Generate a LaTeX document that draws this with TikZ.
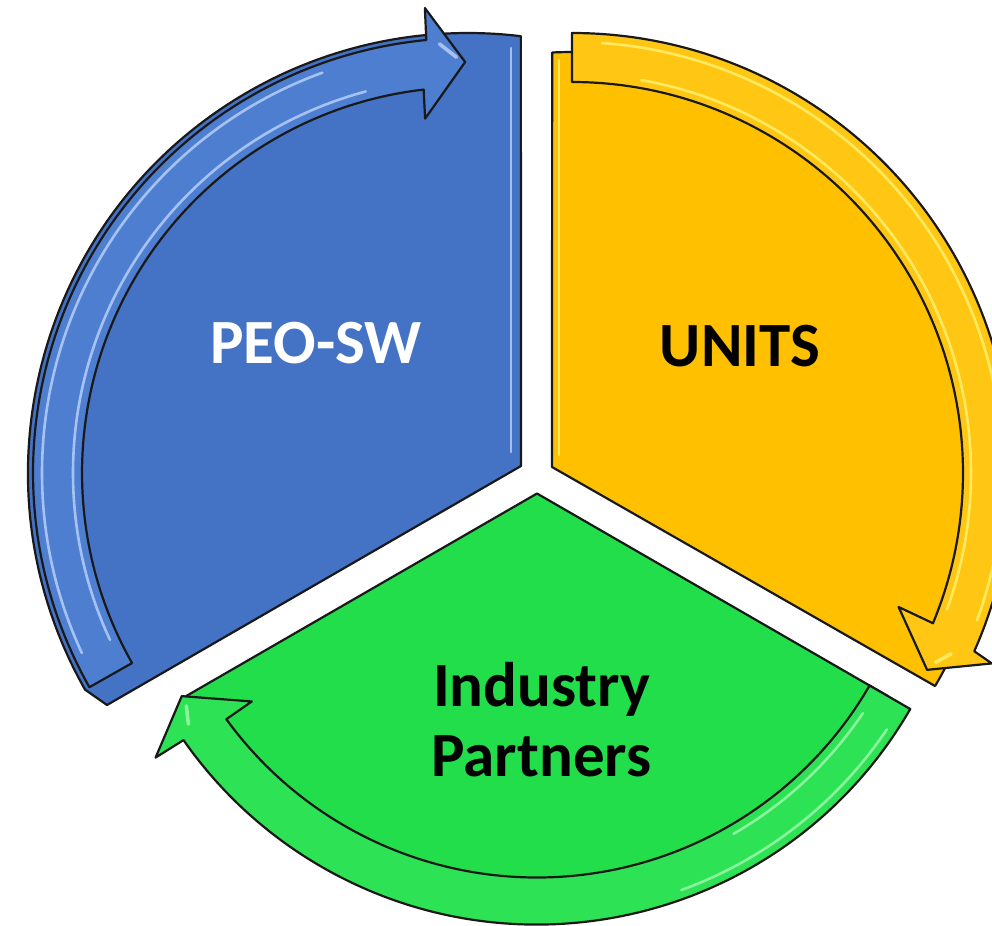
\documentclass[tikz,border=0pt]{standalone}
\usepackage{fontspec}
\usetikzlibrary{calc}
\setmainfont{Carlito}
\definecolor{blueF}{RGB}{68,114,196}
\definecolor{blueB}{RGB}{78,126,208}
\definecolor{blueH}{RGB}{196,218,255}
\definecolor{yelF}{RGB}{255,192,0}
\definecolor{yelB}{RGB}{255,198,20}
\definecolor{yelH}{RGB}{255,246,120}
\definecolor{grnF}{RGB}{35,222,75}
\definecolor{grnB}{RGB}{45,226,85}
\definecolor{grnH}{RGB}{170,250,180}
\definecolor{outline}{RGB}{25,25,25}
\begin{document}
\begin{tikzpicture}[x=0.5pt,y=0.5pt,line join=round,
  shape outline/.style={draw=outline,line width=1.1pt},
  glint/.style={line width=1.3pt,line cap=round,opacity=0.75},
  label text/.style={font=\fontsize{31.5}{35.3}\selectfont\bfseries,inner sep=0pt,anchor=base}]
\useasboundingbox (0,0) rectangle (992,-926);
\clip (0,0) rectangle (992,-926);

% ---------------- BLUE segment ----------------
\coordinate (bA) at (521,-466);
\coordinate (bL) at (107,-705);
\coordinate (bC) at (468,-473);
\path[shape outline,fill=blueF] (bA) -- (bL) -- ($(bC)+(209.5:440)$)
   arc[start angle=209.5,end angle=83.1,radius=440] -- cycle;
\draw[glint,blueH] (511,-48) -- (511,-452);
\begin{scope}[shift={(bC)}]
  \path[shape outline,fill=blueB] (209.5:435) arc[start angle=209.5,end angle=95.5,radius=435]
     -- (95.3:467) -- (90.4:411) -- (96.9:357) -- (96.6:386)
     arc[start angle=96.6,end angle=209.5,radius=386] -- cycle;
  \draw[glint,blueH] (205:426) arc[start angle=205,end angle=110,radius=426];
  \draw[glint,blueH] (205:395) arc[start angle=205,end angle=105,radius=395];
  \draw[glint,blueH,line width=1.8pt] (93.8:430) -- (91.6:416);
\end{scope}

% ---------------- YELLOW segment ----------------
\coordinate (yA) at (552,-467);
\coordinate (yC) at (572,-473);
\path[shape outline,fill=yelF] (yA) -- ($(yC)+(92.7:421)$)
   arc[start angle=92.7,end angle=-30.4,radius=421] -- cycle;
\draw[glint,yelH] (559,-60) -- (559,-455);
\begin{scope}[shift={(yC)}]
  \path[shape outline,fill=yelB] (90:440) arc[start angle=90,end angle=-23.9,radius=440]
     -- (-24.4:461) -- (-29:406) -- (-22.3:353) -- (-22.6:391)
     arc[start angle=-22.6,end angle=90,radius=391] -- cycle;
  \draw[glint,yelH] (86:431) arc[start angle=86,end angle=-20,radius=431];
  \draw[glint,yelH] (80:399) arc[start angle=80,end angle=-20,radius=399];
  \draw[glint,yelH,line width=1.8pt] (-25.5:420) -- (-27.5:410);
\end{scope}

% ---------------- GREEN segment ----------------
\coordinate (gC) at (537,-493.5);
\path[shape outline,fill=grnF] (gC) -- ($(gC)+(-30:405)$)
   arc[start angle=-30,end angle=-150,radius=405] -- cycle;
\begin{scope}[shift={(gC)}]
  \path[shape outline,fill=grnB] (-30:431) arc[start angle=-30,end angle=-145.1,radius=431]
     -- (-145.3:464) -- (-150.3:409) -- (-143.9:353) -- (-144.0:384)
     arc[start angle=-144.0,end angle=-30,radius=384] -- cycle;
  \draw[glint,grnH] (-34:422) arc[start angle=-34,end angle=-70,radius=422];
  \draw[glint,grnH] (-34:393) arc[start angle=-34,end angle=-60,radius=393];
  \draw[glint,grnH,line width=1.8pt] (-146.5:418) -- (-148.8:410);
\end{scope}

% ---------------- labels ----------------
\node[label text,text=white] (peo) at (316,-363.3) {PEO-SW};
\node[label text,text=black] (units) at (740,-366.7) {UNITS};
\node[label text,text=black] (ind) at (541.5,-706) {Industry};
\node[label text,text=black] (par) at (541.5,-776.7) {Partners};
\end{tikzpicture}
\end{document}
